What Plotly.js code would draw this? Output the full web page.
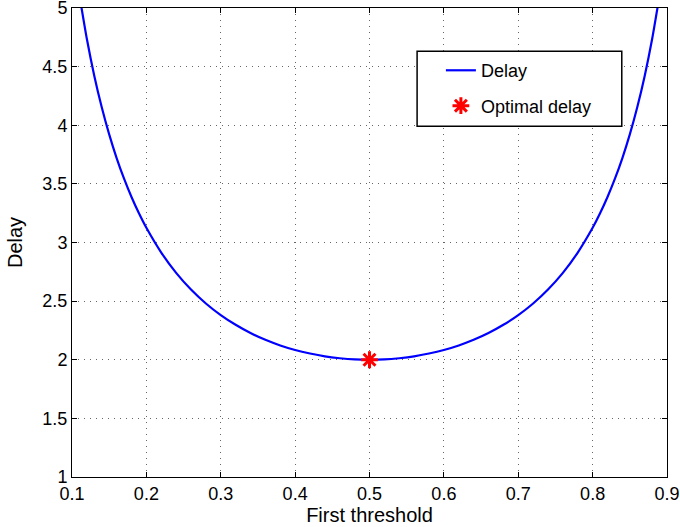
<!DOCTYPE html>
<html>
<head>
<meta charset="utf-8">
<script src="https://cdn.plot.ly/plotly-3.0.1.min.js"></script>
<style>html,body{margin:0;padding:0;background:#fff;}#chart{width:680px;height:527px;}</style>
</head>
<body>
<div id="chart"></div>
<script>
const thresholds = [0.11,0.12,0.13,0.14,0.15,0.16,0.17,0.18,0.19,0.20,0.22,0.24,0.26,0.28,0.30,0.32,0.34,0.36,0.38,0.40,0.42,0.44,0.46,0.48,0.50,0.52,0.54,0.56,0.58,0.60,0.62,0.64,0.66,0.68,0.70,0.72,0.74,0.76,0.78,0.80,0.81,0.82,0.83,0.84,0.85,0.86,0.87,0.88,0.89];
const delays = [5.107,4.735,4.421,4.153,3.922,3.720,3.544,3.388,3.249,3.125,2.914,2.741,2.599,2.480,2.381,2.298,2.228,2.170,2.122,2.083,2.053,2.029,2.013,2.003,2.000,2.003,2.013,2.029,2.053,2.083,2.122,2.170,2.228,2.298,2.381,2.480,2.599,2.741,2.914,3.125,3.249,3.388,3.544,3.720,3.922,4.153,4.421,4.735,5.107];
const optimalX = [0.5];
const optimalY = [2.0];
const xTicks = [0.1,0.2,0.3,0.4,0.5,0.6,0.7,0.8,0.9];
const yTicks = [1,1.5,2,2.5,3,3.5,4,4.5,5];

const tickFont = {family: 'Liberation Sans, Arial, sans-serif', size: 18, color: '#000'};
const titleFont = {family: 'Liberation Sans, Arial, sans-serif', size: 20, color: '#000'};
const legendFont = {family: 'Liberation Sans, Arial, sans-serif', size: 18, color: '#000'};

const traces = [
  {x: thresholds, y: delays, type: 'scatter', mode: 'lines', name: 'Delay',
   line: {color: '#0000ff', width: 2.2, shape: 'spline', smoothing: 0.6}, legendgroup: 'a'},
  {x: optimalX, y: optimalY, type: 'scatter', mode: 'markers', name: 'Optimal delay',
   marker: {symbol: 'asterisk-open', size: 14, color: '#ff0000', line: {color: '#ff0000', width: 3}},
   legendgroup: 'b', cliponaxis: false}
];

const axisCommon = {
  showline: true, linecolor: '#000', linewidth: 1, mirror: 'ticks',
  ticks: 'inside', ticklen: 5, tickcolor: '#000',
  showgrid: true, gridcolor: '#666', griddash: '1px,5px', gridwidth: 1,
  zeroline: false, tickfont: tickFont, ticklabeloverflow: 'allow'
};

const layout = {
  width: 680, height: 527,
  margin: {l: 72, r: 13, t: 8, b: 50},
  paper_bgcolor: '#fff', plot_bgcolor: '#fff',
  font: tickFont,
  xaxis: Object.assign({}, axisCommon, {range: [0.1, 0.9], tickvals: xTicks, ticktext: xTicks.map(String),
    title: {text: 'First threshold', font: titleFont, standoff: 0}}),
  yaxis: Object.assign({}, axisCommon, {range: [1, 5], tickvals: yTicks, ticktext: yTicks.map(String),
    title: {text: 'Delay', font: titleFont, standoff: 14}}),
  shapes: [{type: 'rect', xref: 'paper', yref: 'paper', x0: 0.580, x1: 0.924, y0: 0.748, y1: 0.908,
    line: {color: '#000', width: 1.5}, fillcolor: '#fff', layer: 'above'}],
  showlegend: true,
  legend: {x: 0.620, y: 0.906, xanchor: 'left', yanchor: 'top', bgcolor: 'rgba(0,0,0,0)',
    borderwidth: 0, font: legendFont, traceorder: 'grouped', tracegroupgap: 9}
};

Plotly.newPlot('chart', traces, layout, {displayModeBar: false, staticPlot: true});
</script>
</body>
</html>
